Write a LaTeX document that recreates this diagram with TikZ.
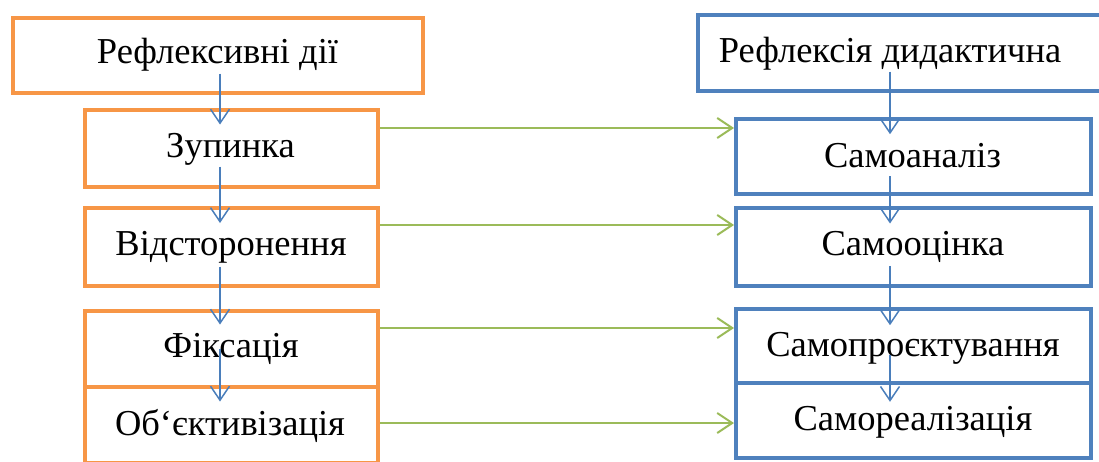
\documentclass[tikz,border=0pt]{standalone}
\usepackage{fontspec}
\setmainfont{Liberation Serif}
\usetikzlibrary{arrows.meta,calc}
\definecolor{orng}{HTML}{F79646}
\definecolor{bbox}{HTML}{4F81BD}
\definecolor{barr}{HTML}{4A7EBB}
\definecolor{grn}{HTML}{9BBB59}
\begin{document}
\begin{tikzpicture}[x=1pt,y=-1pt,
  obox/.style={draw=orng,line width=4pt,inner sep=0pt,fill=none},
  bluebox/.style={draw=bbox,line width=4pt,inner sep=0pt,fill=none},
  lbl/.style={anchor=base,inner sep=0pt,font=\fontsize{36.5}{40}\selectfont},
  barrow/.style={draw=barr,line width=1.5pt,-{Straight Barb[length=14pt,width=19pt,line width=1.5pt]}},
  garrow/.style={draw=grn,line width=2pt,-{Straight Barb[length=15pt,width=20pt,line width=2pt]}}]
\useasboundingbox (0,0) rectangle (1099,461);
\clip (0,0) rectangle (1099,461);
% left boxes
\node[obox,minimum width=410.5pt,minimum height=75pt] (l0) at (217.75,55) {};
\node[obox,minimum width=293.5pt,minimum height=77pt] (l1) at (231.25,148) {};
\node[obox,minimum width=293.5pt,minimum height=77.5pt] (l2) at (231.25,246.75) {};
\node[obox,minimum width=293.5pt,minimum height=76.5pt] (l4) at (231.25,424.75) {};
\node[obox,minimum width=293.5pt,minimum height=76pt] (l3) at (231.25,348.5) {};
% right boxes
\node[bluebox,minimum width=430pt,minimum height=75.5pt] (r0) at (913.3,52.75) {};
\node[bluebox,minimum width=354.5pt,minimum height=75pt] (r1) at (913.25,156.7) {};
\node[bluebox,minimum width=354.5pt,minimum height=78.3pt] (r2) at (913.25,246.65) {};
\node[bluebox,minimum width=354.5pt,minimum height=74.7pt] (r4) at (913.25,420.15) {};
\node[bluebox,minimum width=354.5pt,minimum height=73.6pt] (r3) at (913.25,346) {};
% texts
\node[lbl] (tl0) at (217.5,63) {Рефлексивні дії};
\node[lbl] (tl1) at (230.5,157) {Зупинка};
\node[lbl] (tl2) at (231,255) {Відсторонення};
\node[lbl] (tl3) at (231,357) {Фіксація};
\node[lbl] (tl4) at (230,435) {Об‘єктивізація};
\node[lbl] (tr0) at (890,62) {Рефлексія дидактична};
\node[lbl] (tr1) at (912.5,167) {Самоаналіз};
\node[lbl] (tr2) at (913,255) {Самооцінка};
\node[lbl] (tr3) at (913,356) {Самопроєктування};
\node[lbl] (tr4) at (913,430) {Самореалізація};
% axes for vertical connectors
\coordinate (axL) at (220,0);
\coordinate (axR) at (890,0);
% left blue arrows
\draw[barrow] ($(l0.south -| axL)+(0,-21)$) -- ($(l1.north -| axL)+(0,17)$);
\draw[barrow] ($(l1.south -| axL)+(0,-22)$) -- ($(l2.north -| axL)+(0,17)$);
\draw[barrow] ($(l2.south -| axL)+(0,-21)$) -- ($(l3.north -| axL)+(0,16)$);
\draw[barrow] ($(l3.south -| axL)+(0,-40)$) -- ($(l4.north -| axL)+(0,17)$);
% right blue arrows
\draw[barrow] ($(r0.south -| axR)+(0,-21)$) -- ($(r1.north -| axR)+(0,17)$);
\draw[barrow] ($(r1.south -| axR)+(0,-20)$) -- ($(r2.north -| axR)+(0,18)$);
\draw[barrow] ($(r2.south -| axR)+(0,-22)$) -- ($(r3.north -| axR)+(0,18)$);
\draw[barrow] ($(r3.south -| axR)+(0,-30)$) -- ($(r4.north -| axR)+(0,21)$);
% green arrows
\draw[garrow] ($(l1.north east)+(0,20.5)$) coordinate (g1) -- (g1 -| r1.west);
\draw[garrow] ($(l2.north east)+(0,19)$) coordinate (g2) -- (g2 -| r2.west);
\draw[garrow] ($(l3.north east)+(0,19.5)$) coordinate (g3) -- (g3 -| r3.west);
\draw[garrow] ($(l4.north east)+(0,38.5)$) coordinate (g4) -- (g4 -| r4.west);
\end{tikzpicture}
\end{document}
